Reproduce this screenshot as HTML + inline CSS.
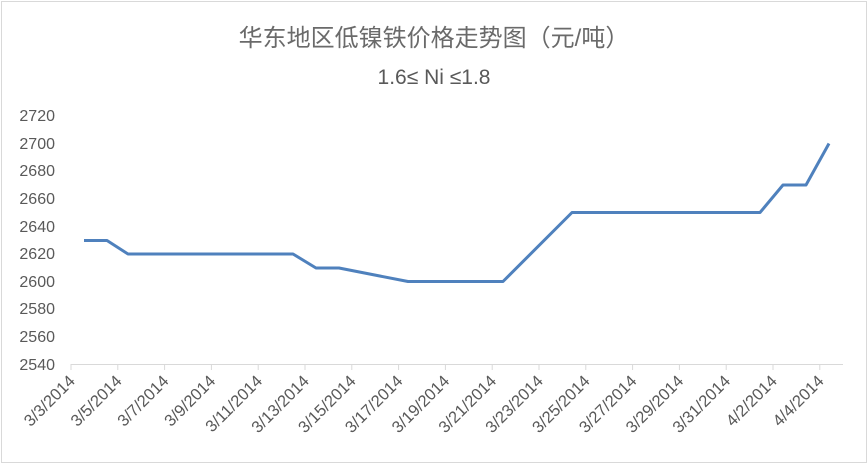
<!DOCTYPE html>
<html><head><meta charset="utf-8"><style>
html,body{margin:0;padding:0;background:#fff}
svg{display:block}
text{font-family:"Liberation Sans","Noto Sans CJK SC",sans-serif;fill:#595959}
</style></head><body>
<svg width="868" height="464" xmlns="http://www.w3.org/2000/svg">
<rect x="1.5" y="1.5" width="865" height="461" fill="#fff" stroke="#d9d9d9" stroke-width="1"/>
<text x="434" y="46" font-size="24" text-anchor="middle" style="fill:#6a6a6a">华东地区低镍铁价格走势图（元/吨）</text>
<text x="434" y="84" font-size="21" text-anchor="middle">1.6≤ Ni ≤1.8</text>
<g font-size="16" text-anchor="end">
<text x="55" y="121">2720</text>
<text x="55" y="149">2700</text>
<text x="55" y="176">2680</text>
<text x="55" y="204">2660</text>
<text x="55" y="232">2640</text>
<text x="55" y="259">2620</text>
<text x="55" y="287">2600</text>
<text x="55" y="314">2580</text>
<text x="55" y="342">2560</text>
<text x="55" y="370">2540</text>
</g>
<line x1="71" y1="364.5" x2="843" y2="364.5" stroke="#d9d9d9" stroke-width="1"/>
<g stroke="#d9d9d9" stroke-width="1" id="ticks"></g>
<g font-size="16.5" text-anchor="end" id="labels"></g>
<polyline fill="none" stroke="#4f81bd" stroke-width="3" stroke-linejoin="round"
points="84,240.5 107,240.5 128,254 293,254 316,268 339,268 408,281.5 503,281.5 572,212.5 760,212.5 783,185 806,185 829,143.5"/>
<script>
var t=document.getElementById('ticks'),l=document.getElementById('labels');
var ns='http://www.w3.org/2000/svg';
for(var k=0;k<=16;k++){
 var x=71+46.8*k;
 var ln=document.createElementNS(ns,'line');
 ln.setAttribute('x1',x);ln.setAttribute('x2',x);ln.setAttribute('y1',364);ln.setAttribute('y2',370);
 t.appendChild(ln);
 var d=3+2*k, m=3; if(d>31){d-=31;m=4;}
 var tx=document.createElementNS(ns,'text');
 tx.setAttribute('transform','translate('+(x+5)+',382) rotate(-45)');
 tx.textContent=m+'/'+d+'/2014';
 l.appendChild(tx);
}
</script>
</svg>
</body></html>
